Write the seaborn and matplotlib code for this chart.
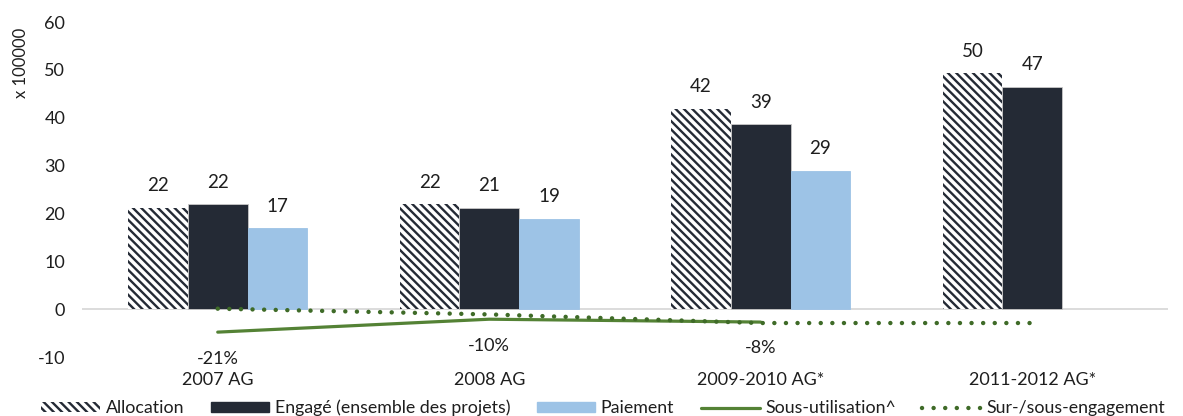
import numpy as np
import pandas as pd
import matplotlib
matplotlib.use("Agg")
import matplotlib.pyplot as plt
import seaborn as sns
from matplotlib.patches import Patch
from matplotlib.lines import Line2D

# ---- data ----
categories = ["2007 AG", "2008 AG", "2009-2010 AG*", "2011-2012 AG*"]
series_names = ["Allocation", "Engagé (ensemble des projets)", "Paiement"]
allocation = [21.1, 21.9, 41.8, 49.3]
engage = [21.9, 21.1, 38.6, 46.5]
paiement = [16.9, 18.8, 28.9, np.nan]
allocation_labels = ["22", "22", "42", "50"]
engage_labels = ["22", "21", "39", "47"]
paiement_labels = ["17", "19", "29", ""]
sous_utilisation = [-4.8, -2.1, -2.7, np.nan]
sous_utilisation_labels = ["-21%", "-10%", "-8%", ""]
sur_sous_engagement = [0.1, -1.1, -2.9, -2.9]
y_ticks = [-10, 0, 10, 20, 30, 40, 50, 60]

# ---- style ----
sns.set_theme(style="white")
plt.rcParams["font.family"] = ["Lato", "DejaVu Sans"]
plt.rcParams["hatch.linewidth"] = 1.7
TXT = "#1e1e1e"
DARK = "#242a35"
LIGHT = "#9dc3e6"
GREEN = "#548235"
DOTGREEN = "#3f6b28"

df = pd.DataFrame({
    "cat": categories * 3,
    "series": [series_names[0]] * 4 + [series_names[1]] * 4 + [series_names[2]] * 4,
    "val": allocation + engage + paiement,
})

fig = plt.figure(figsize=(11.83, 4.16), dpi=100)
ax = fig.add_axes([0.0693, 0.1418, 0.9180, 0.8052])

sns.barplot(data=df, x="cat", y="val", hue="series", order=categories,
            hue_order=series_names, palette=["white", DARK, LIGHT],
            width=0.66, gap=0, ax=ax, legend=False, saturation=1, err_kws={"linewidth": 0})

label_sets = [allocation_labels, engage_labels, paiement_labels]
for ci, cont in enumerate(ax.containers):
    for bi, patch in enumerate(cont.patches):
        h = patch.get_height()
        if ci == 0:
            patch.set_hatch("\\\\\\\\")
            patch.set_edgecolor(DARK)
            patch.set_linewidth(0)
        else:
            patch.set_edgecolor("#c8c8c8" if ci == 1 else LIGHT)
            patch.set_linewidth(0.6)
        if h is None or np.isnan(h) or label_sets[ci][bi] == "":
            continue
        ax.annotate(label_sets[ci][bi], (patch.get_x() + patch.get_width() / 2, h),
                    xytext=(0, 16), textcoords="offset points", ha="center",
                    va="center", fontsize=13.5, color=TXT)

ax.axhline(0, color="#d9d9d9", lw=1.3, zorder=0.5)

xs = np.arange(len(categories))
sns.lineplot(x=xs, y=sous_utilisation, ax=ax, color=GREEN, lw=2.3, zorder=3)
ax.plot(xs, sur_sous_engagement, color=DOTGREEN, lw=3.2,
        linestyle=(0, (0.01, 2.6)), dash_capstyle="round", zorder=3)

for x, y, lab in zip(xs, sous_utilisation, sous_utilisation_labels):
    if lab and not np.isnan(y):
        ax.annotate(lab, (x, y), xytext=(0, -19), textcoords="offset points",
                    ha="center", va="center", fontsize=13, color=TXT)

ax.set_xlim(-0.5, 3.5)
ax.set_ylim(-10, 60)
ax.set_yticks(y_ticks)
ax.set_yticklabels([str(t) for t in y_ticks])
ax.set_xlabel("")
ax.set_ylabel("")
for s in ax.spines.values():
    s.set_visible(False)
ax.tick_params(axis="y", length=0, pad=12, labelsize=13, labelcolor=TXT)
ax.tick_params(axis="x", length=0, pad=11, labelsize=13, labelcolor=TXT)

fig.text(21 / 1183, 1 - 28 / 416, "x 100000", rotation=90, ha="center", va="top",
         fontsize=12, color=TXT)

handles = [
    Patch(facecolor="white", edgecolor=DARK, hatch="\\\\\\\\", linewidth=0),
    Patch(facecolor=DARK, edgecolor=DARK),
    Patch(facecolor=LIGHT, edgecolor=LIGHT),
    Line2D([0], [0], color=GREEN, lw=2.3),
    Line2D([0], [0], color=DOTGREEN, lw=3.2, linestyle=(0, (0.01, 2.6)), dash_capstyle="round"),
]
labels = series_names + ["Sous-utilisation^", "Sur-/sous-engagement"]
fig.legend(handles, labels, loc="center", bbox_to_anchor=(0.51, 1 - 408 / 416),
           ncol=5, frameon=False, fontsize=12.8, handlelength=3.3, handleheight=0.5,
           handletextpad=0.3, columnspacing=1.5, borderpad=0, labelcolor=TXT)

fig.savefig("out.png", dpi=100)
